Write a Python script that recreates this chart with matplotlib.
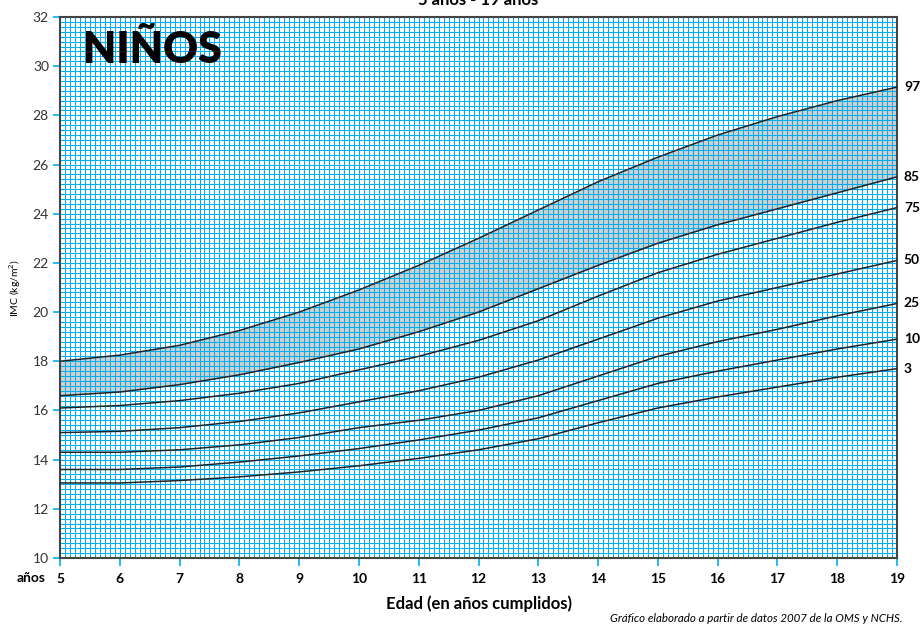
import matplotlib.pyplot as plt
from matplotlib.ticker import MultipleLocator

plt.rcParams['font.family'] = ['Lato', 'DejaVu Sans']

# edades (años cumplidos)
edades = [5, 6, 7, 8, 9, 10, 11, 12, 13, 14, 15, 16, 17, 18, 19]

# percentiles de IMC (kg/m2), niños
p97 = [18.0, 18.25, 18.65, 19.25, 20.0, 20.9, 21.9, 23.0, 24.15, 25.3, 26.3, 27.2, 27.95, 28.6, 29.15]
p85 = [16.6, 16.75, 17.05, 17.45, 17.95, 18.5, 19.2, 20.0, 20.95, 21.9, 22.8, 23.55, 24.2, 24.85, 25.5]
p75 = [16.1, 16.2, 16.4, 16.7, 17.1, 17.65, 18.2, 18.85, 19.65, 20.65, 21.6, 22.35, 23.0, 23.65, 24.25]
p50 = [15.1, 15.15, 15.3, 15.55, 15.9, 16.35, 16.8, 17.35, 18.05, 18.9, 19.75, 20.45, 21.0, 21.55, 22.1]
p25 = [14.3, 14.3, 14.4, 14.6, 14.9, 15.3, 15.6, 16.0, 16.6, 17.4, 18.2, 18.8, 19.3, 19.85, 20.35]
p10 = [13.6, 13.6, 13.7, 13.9, 14.15, 14.45, 14.8, 15.2, 15.7, 16.4, 17.1, 17.6, 18.05, 18.5, 18.9]
p3 = [13.05, 13.05, 13.15, 13.3, 13.5, 13.75, 14.05, 14.4, 14.85, 15.5, 16.1, 16.55, 16.95, 17.35, 17.7]

percentiles = ['97', '85', '75', '50', '25', '10', '3']
curvas = [p97, p85, p75, p50, p25, p10, p3]

azul = '#00aeef'
gris = '#333333'

fig = plt.figure(figsize=(9.22, 6.27), dpi=100)
ax = fig.add_axes([60/922, 69/627, 837/922, 541/627])

ax.set_xlim(5, 19)
ax.set_ylim(10, 32)

# zona sombreada entre p85 y p97
ax.fill_between(edades, p85, p97, color='#d0d0d0', zorder=1, linewidth=0)

for valores in curvas:
    ax.plot(edades, valores, color='#222222', linewidth=1.1, zorder=3)

# cuadricula: meses en x, 0.2 en y
ax.xaxis.set_major_locator(MultipleLocator(1))
ax.xaxis.set_minor_locator(MultipleLocator(1/12))
ax.yaxis.set_major_locator(MultipleLocator(2))
ax.yaxis.set_minor_locator(MultipleLocator(0.2))
ax.grid(which='both', color=azul, linewidth=0.75, zorder=2)
ax.tick_params(which='minor', length=0)
ax.tick_params(axis='y', which='major', color=azul, length=5, width=1.2,
               labelsize=10, labelcolor=gris, pad=3)
ax.tick_params(axis='x', which='major', color=azul, length=6, width=1.2,
               labelsize=10, pad=5)
for lab in ax.get_xticklabels():
    lab.set_fontweight('bold')

for s in ax.spines.values():
    s.set_color('#444444')
    s.set_linewidth(1.5)

# etiquetas de percentil a la derecha
for nombre, valores in zip(percentiles, curvas):
    ax.annotate(nombre, xy=(19, valores[-1]), xytext=(5, 0), textcoords='offset points',
                va='center', ha='left', fontsize=10, fontweight='bold',
                annotation_clip=False)

ax.text(5.38, 30.66, 'NIÑOS', fontsize=31, fontweight='heavy', va='center', ha='left', zorder=5)

ax.set_ylabel('IMC (kg/m$^2$)', fontsize=7.5, labelpad=7)
ax.set_xlabel('Edad (en años cumplidos)', fontsize=12, fontweight='bold', labelpad=7)

fig.text(31/922, 1 - 578/627, 'años', fontsize=10, fontweight='bold', va='center', ha='center')
# titulo cortado por arriba, como en el original
fig.text(478/922, 1 - 5/627, '5 años - 19 años', fontsize=12, fontweight='bold',
         va='baseline', ha='center')
fig.text(903/922, 1 - 619/627, 'Gráfico elaborado a partir de datos 2007 de la OMS y NCHS.',
         fontsize=8.3, style='italic', ha='right', va='center')

fig.savefig('out.png', dpi=100)
